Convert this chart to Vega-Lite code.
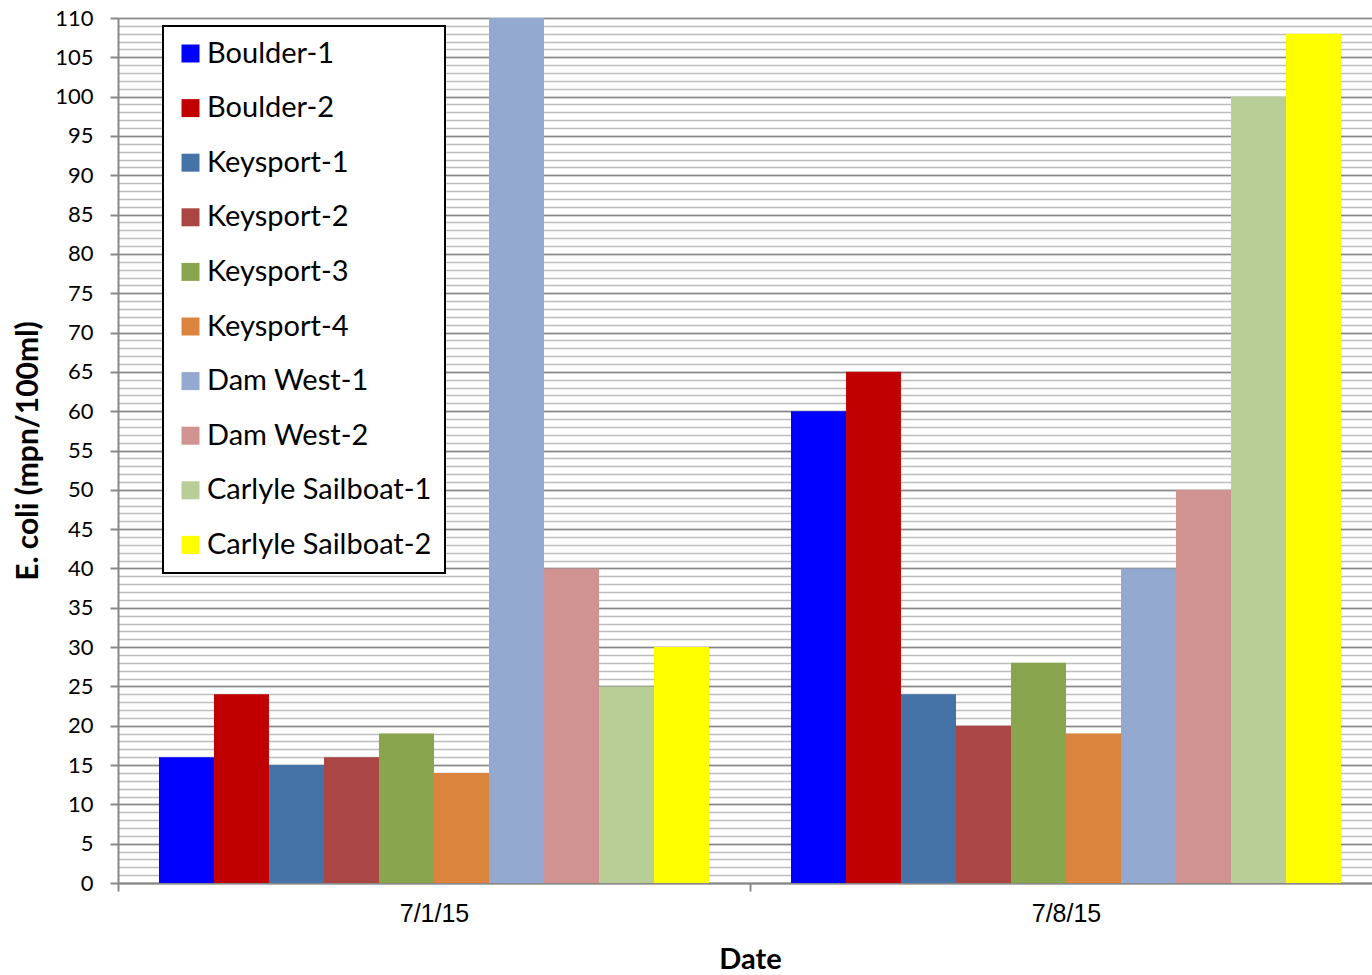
{
  "$schema": "https://vega.github.io/schema/vega-lite/v6.json",
  "width": 1254,
  "height": 865,
  "autosize": {"type": "none"},
  "padding": {"left": 118, "top": 18, "right": 0, "bottom": 92},
  "config": {"view": {"stroke": null}, "font": "Lato"},
  "data": {
    "values": [
      {"date": "7/1/15", "site": "Boulder-1", "value": 16},
      {"date": "7/1/15", "site": "Boulder-2", "value": 24},
      {"date": "7/1/15", "site": "Keysport-1", "value": 15},
      {"date": "7/1/15", "site": "Keysport-2", "value": 16},
      {"date": "7/1/15", "site": "Keysport-3", "value": 19},
      {"date": "7/1/15", "site": "Keysport-4", "value": 14},
      {"date": "7/1/15", "site": "Dam West-1", "value": 110},
      {"date": "7/1/15", "site": "Dam West-2", "value": 40},
      {"date": "7/1/15", "site": "Carlyle Sailboat-1", "value": 25},
      {"date": "7/1/15", "site": "Carlyle Sailboat-2", "value": 30},
      {"date": "7/8/15", "site": "Boulder-1", "value": 60},
      {"date": "7/8/15", "site": "Boulder-2", "value": 65},
      {"date": "7/8/15", "site": "Keysport-1", "value": 24},
      {"date": "7/8/15", "site": "Keysport-2", "value": 20},
      {"date": "7/8/15", "site": "Keysport-3", "value": 28},
      {"date": "7/8/15", "site": "Keysport-4", "value": 19},
      {"date": "7/8/15", "site": "Dam West-1", "value": 40},
      {"date": "7/8/15", "site": "Dam West-2", "value": 50},
      {"date": "7/8/15", "site": "Carlyle Sailboat-1", "value": 100},
      {"date": "7/8/15", "site": "Carlyle Sailboat-2", "value": 108}
    ]
  },
  "layer": [
    {
      "mark": {"type": "rule", "opacity": 0},
      "encoding": {
        "y": {
          "field": "value",
          "type": "quantitative",
          "scale": {"domain": [0, 110], "nice": false},
          "axis": {
            "orient": "left",
            "values": [0,1,2,3,4,5,6,7,8,9,10,11,12,13,14,15,16,17,18,19,20,21,22,23,24,25,26,27,28,29,30,31,32,33,34,35,36,37,38,39,40,41,42,43,44,45,46,47,48,49,50,51,52,53,54,55,56,57,58,59,60,61,62,63,64,65,66,67,68,69,70,71,72,73,74,75,76,77,78,79,80,81,82,83,84,85,86,87,88,89,90,91,92,93,94,95,96,97,98,99,100,101,102,103,104,105,106,107,108,109,110],
            "grid": true,
            "gridColor": "#bcbcbc",
            "gridWidth": 1.5,
            "gridOpacity": 1,
            "labels": false,
            "ticks": false,
            "domain": false,
            "title": null
          }
        }
      }
    },
    {
      "mark": {"type": "bar", "clip": true},
      "encoding": {
        "x": {
          "field": "date",
          "type": "nominal",
          "sort": ["7/1/15", "7/8/15"],
          "scale": {"paddingInner": 0, "paddingOuter": 0, "range": [0, 1264]},
          "axis": {
            "title": "Date",
            "titleFontSize": 29,
            "titleFontWeight": "bold",
            "titleColor": "black",
            "titlePadding": 19,
            "labelFont": "Liberation Sans",
            "labelFontSize": 25,
            "labelColor": "black",
            "labelAngle": 0,
            "labelPadding": 10,
            "tickBand": "extent",
            "tickSize": 8,
            "tickColor": "#888888",
            "tickWidth": 2,
            "domainColor": "#888888",
            "domainWidth": 2,
            "grid": false
          }
        },
        "xOffset": {
          "field": "site",
          "type": "nominal",
          "sort": ["Boulder-1", "Boulder-2", "Keysport-1", "Keysport-2", "Keysport-3", "Keysport-4", "Dam West-1", "Dam West-2", "Carlyle Sailboat-1", "Carlyle Sailboat-2"],
          "scale": {"paddingInner": 0, "paddingOuter": 0.745}
        },
        "y": {
          "field": "value",
          "type": "quantitative",
          "scale": {"domain": [0, 110], "nice": false},
          "axis": {
            "orient": "left",
            "values": [0,5,10,15,20,25,30,35,40,45,50,55,60,65,70,75,80,85,90,95,100,105,110],
            "grid": true,
            "gridColor": "#868686",
            "gridWidth": 1.5,
            "gridOpacity": 1,
            "tickSize": 8,
            "tickColor": "#888888",
            "tickWidth": 2,
            "domainColor": "#888888",
            "domainWidth": 2,
            "labelFontSize": 22,
            "labelColor": "black",
            "labelPadding": 17,
            "title": "E. coli (mpn/100ml)",
            "titleFontSize": 30,
            "titleFontWeight": "bold",
            "titleColor": "black",
            "titlePadding": 11
          }
        },
        "color": {
          "field": "site",
          "type": "nominal",
          "sort": ["Boulder-1", "Boulder-2", "Keysport-1", "Keysport-2", "Keysport-3", "Keysport-4", "Dam West-1", "Dam West-2", "Carlyle Sailboat-1", "Carlyle Sailboat-2"],
          "scale": {
            "domain": ["Boulder-1", "Boulder-2", "Keysport-1", "Keysport-2", "Keysport-3", "Keysport-4", "Dam West-1", "Dam West-2", "Carlyle Sailboat-1", "Carlyle Sailboat-2"],
            "range": ["#0000ff", "#c00000", "#4572a7", "#aa4643", "#89a54e", "#db843d", "#93a9cf", "#d19392", "#b9cd96", "#ffff00"]
          },
          "legend": {
            "orient": "none",
            "legendX": 45,
            "legendY": 8,
            "title": null,
            "symbolType": "square",
            "symbolSize": 324,
            "symbolStrokeWidth": 0,
            "symbolOpacity": 1,
            "labelFontSize": 29,
            "labelColor": "black",
            "labelOffset": 2,
            "labelLimit": 400,
            "rowPadding": 24.6,
            "padding": 13,
            "strokeColor": "black",
            "fillColor": "white",
            "encode": {"legend": {"update": {"strokeWidth": {"value": 2}}}}
          }
        }
      }
    }
  ],
  "resolve": {"axis": {"y": "independent"}}
}
